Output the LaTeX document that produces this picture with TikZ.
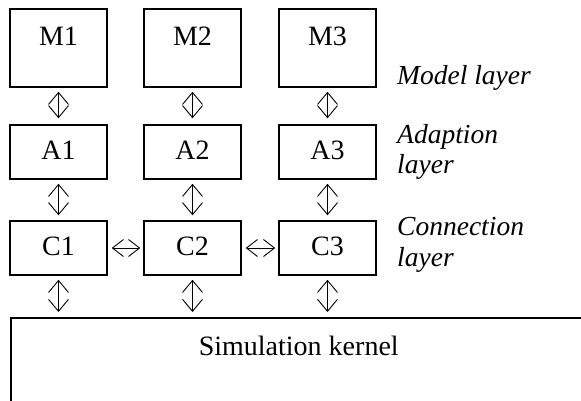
\documentclass[tikz,border=0pt]{standalone}
\usepackage{fontspec}
\setmainfont{Liberation Serif}
\usetikzlibrary{arrows.meta}
\begin{document}
\begin{tikzpicture}[x=1pt,y=-1pt,
  every node/.style={font=\fontsize{28}{32}\selectfont},
  box/.style={draw,line width=1.5pt,inner sep=0pt,minimum width=97pt},
  mbox/.style={box,text height=36pt,text depth=42pt},
  abox/.style={box,text height=34pt,text depth=20pt},
  kbox/.style={draw,line width=1.5pt,inner sep=0pt,minimum width=576pt,text height=38pt,text depth=62pt,anchor=north west},
  lab/.style={font=\fontsize{27.5}{32}\selectfont\itshape,align=left,inner sep=0pt},
  dbl/.style={line width=0.9pt,{Straight Barb[length=12pt,width=20pt]}-{Straight Barb[length=12pt,width=20pt]}},
  hdbl/.style={line width=0.9pt,{Straight Barb[length=11pt,width=17pt]}-{Straight Barb[length=11pt,width=17pt]}}
]
\clip (0,0) rectangle (581,400);
\fill[white] (0,0) rectangle (581,400);
% model layer
\node[mbox] (M1) at (58.5,48) {M1};
\node[mbox] (M2) at (192.5,48) {M2};
\node[mbox] (M3) at (327.5,48) {M3};
% adaption layer
\node[abox] (A1) at (58.5,152) {A1};
\node[abox] (A2) at (192.5,152) {A2};
\node[abox] (A3) at (327.5,152) {A3};
% connection layer
\node[abox] (C1) at (58.5,248) {C1};
\node[abox] (C2) at (192.5,248) {C2};
\node[abox] (C3) at (327.5,248) {C3};
% kernel
\node[kbox] (K) at (10,317) {Simulation kernel};
% labels
\node[lab,anchor=base west] (LM) at (397,84) {Model layer};
\node[lab,anchor=base west] (LA) at (397,143) {Adaption};
\node[lab,anchor=base west] (LA2) at (397,173) {layer};
\node[lab,anchor=base west] (LC) at (397,235) {Connection};
\node[lab,anchor=base west] (LC2) at (397,266) {layer};
% arrows
\foreach \i in {1,2,3}{
  \draw[dbl,shorten <=4pt,shorten >=6pt] (M\i.south) -- (A\i.north);
  \draw[dbl,shorten <=4pt,shorten >=5pt] (A\i.south) -- (C\i.north);
  \draw[dbl,shorten <=4pt,shorten >=5pt] (C\i.south) -- (C\i.south |- K.north);
}
\draw[hdbl,shorten <=4pt,shorten >=3pt] (C1.east) -- (C2.west);
\draw[hdbl,shorten <=4pt,shorten >=3pt] (C2.east) -- (C3.west);
\end{tikzpicture}
\end{document}
